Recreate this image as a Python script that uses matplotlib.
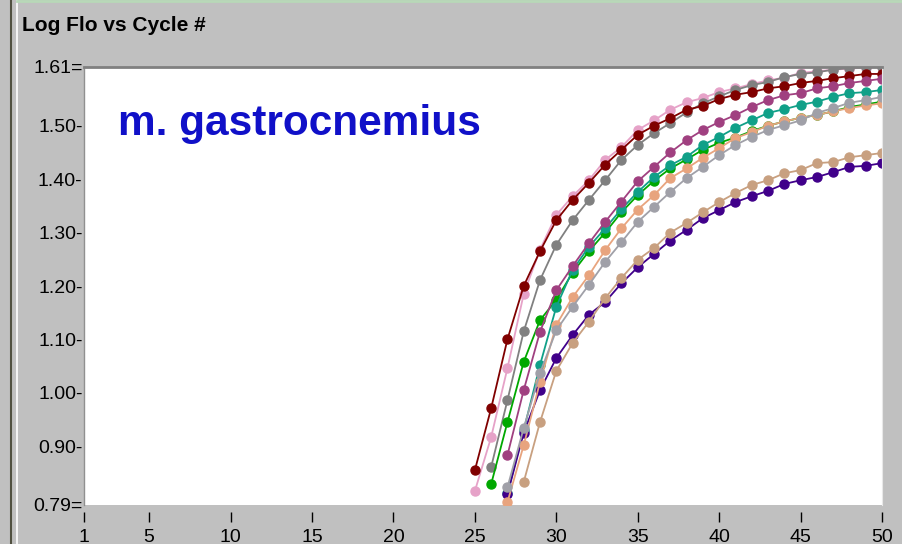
import matplotlib
matplotlib.use("Agg")
import matplotlib.pyplot as plt
from matplotlib.lines import Line2D

# cycle number where each trace starts, and the log fluorescence per cycle
maroon_start = 25
maroon = [0.855, 0.971, 1.10, 1.20, 1.265, 1.323, 1.361, 1.393, 1.427, 1.455,
          1.483, 1.50, 1.514, 1.53, 1.537, 1.55, 1.558, 1.563, 1.57, 1.574,
          1.58, 1.584, 1.589, 1.593, 1.597, 1.597]
pink_start = 25
pink = [0.816, 0.917, 1.046, 1.185, 1.268, 1.333, 1.368, 1.398, 1.436, 1.46,
        1.492, 1.51, 1.53, 1.544, 1.552, 1.563, 1.57, 1.578, 1.585, 1.59,
        1.599, 1.602, 1.605, 1.607, 1.609, 1.61]
gray_start = 26
gray = [0.861, 0.986, 1.115, 1.211, 1.277, 1.323, 1.361, 1.398, 1.436, 1.464,
        1.486, 1.505, 1.525, 1.542, 1.555, 1.567, 1.576, 1.582, 1.591, 1.597,
        1.600, 1.605, 1.608, 1.61, 1.61]
green_start = 26
green = [0.829, 0.945, 1.058, 1.136, 1.174, 1.225, 1.265, 1.30, 1.338, 1.37,
         1.397, 1.42, 1.437, 1.455, 1.468, 1.478, 1.49, 1.50, 1.508, 1.515,
         1.52, 1.527, 1.535, 1.54, 1.545]
magenta_start = 27
magenta = [0.883, 1.005, 1.114, 1.192, 1.237, 1.28, 1.32, 1.358, 1.396, 1.423,
           1.45, 1.473, 1.492, 1.507, 1.52, 1.535, 1.548, 1.557, 1.561, 1.57,
           1.574, 1.58, 1.584, 1.588]
teal_start = 27
teal = [0.812, 0.93, 1.052, 1.161, 1.23, 1.273, 1.308, 1.344, 1.376, 1.404,
        1.426, 1.442, 1.464, 1.479, 1.496, 1.51, 1.524, 1.531, 1.539, 1.545,
        1.554, 1.561, 1.563, 1.567]
ltgray_start = 27
ltgray = [0.823, 0.934, 1.037, 1.117, 1.161, 1.202, 1.245, 1.282, 1.32, 1.348,
          1.376, 1.402, 1.423, 1.445, 1.464, 1.479, 1.492, 1.501, 1.51, 1.524,
          1.533, 1.543, 1.548, 1.554]
salmon_start = 27
salmon = [0.795, 0.902, 1.02, 1.127, 1.179, 1.22, 1.267, 1.308, 1.343, 1.37,
          1.402, 1.42, 1.44, 1.458, 1.477, 1.488, 1.50, 1.508, 1.515, 1.52,
          1.527, 1.533, 1.538, 1.542]
purple_start = 27
purple = [0.81, 0.925, 1.005, 1.065, 1.108, 1.146, 1.17, 1.205, 1.235, 1.26,
          1.285, 1.305, 1.327, 1.342, 1.357, 1.368, 1.378, 1.391, 1.398, 1.404,
          1.413, 1.423, 1.425, 1.43]
tan_start = 28
tan = [0.833, 0.945, 1.041, 1.093, 1.133, 1.177, 1.215, 1.249, 1.271, 1.30,
       1.318, 1.338, 1.357, 1.374, 1.389, 1.398, 1.411, 1.417, 1.43, 1.432,
       1.441, 1.445, 1.449]

yticks = [0.79, 0.90, 1.00, 1.10, 1.20, 1.30, 1.40, 1.50, 1.61]
xticks = [1, 5, 10, 15, 20, 25, 30, 35, 40, 45, 50]

traces = [
    (pink_start, pink, "#E6A2C8"),
    (gray_start, gray, "#808080"),
    (maroon_start, maroon, "#800000"),
    (green_start, green, "#00A800"),
    (teal_start, teal, "#10A088"),
    (magenta_start, magenta, "#A04080"),
    (purple_start, purple, "#40008A"),
    (salmon_start, salmon, "#E8A47E"),
    (ltgray_start, ltgray, "#A0A0A8"),
    (tan_start, tan, "#C8A080"),
]

W, H = 903, 544
bg = "#C0C0C0"
lab_font = "Liberation Sans"

fig = plt.figure(figsize=(W / 100, H / 100), dpi=100, facecolor=bg)
ax = fig.add_axes([84 / W, (H - 505) / H, (882 - 84) / W, (505 - 67) / H])
ax.set_facecolor("white")

# ticks hang a little below the white plot area
ax.spines["bottom"].set_position(("outward", 5))
ax.spines["bottom"].set_visible(False)

for start, vals, col in traces:
    cyc = list(range(start, start + len(vals)))
    ax.plot(cyc, vals, color=col, lw=1.3, marker="o", ms=6.5,
            mec=col, mfc=col, clip_on=True)

ax.set_xlim(1, 50)
ax.set_ylim(0.79, 1.61)

ax.set_yticks(yticks)
ylabels = []
for v in yticks:
    end = "=" if v in (yticks[0], yticks[-1]) else "-"
    ylabels.append(f"{v:.2f}{end}")
ax.set_yticklabels(ylabels, fontfamily=lab_font, fontsize=14)
ax.tick_params(axis="y", length=0, pad=1)

ax.set_xticks(xticks)
ax.set_xticklabels([str(t) for t in xticks], fontfamily=lab_font, fontsize=14)
ax.tick_params(axis="x", length=7.5, width=1, color="black", pad=5)

ax.spines["top"].set_color("#808080")
ax.spines["top"].set_linewidth(2)
ax.spines["left"].set_color("#909090")
ax.spines["left"].set_linewidth(1)
ax.spines["right"].set_color("#E8E8E8")

ax.text((118 - 84) / (882 - 84), (505 - 135) / (505 - 67), "m. gastrocnemius",
        transform=ax.transAxes, fontsize=30.5, fontweight="bold",
        color="#1010C8", family="Liberation Sans", va="baseline")

fig.text(22 / W, (H - 31) / H, "Log Flo vs Cycle #", fontsize=15,
         fontweight="bold", family=lab_font, va="baseline")

# window frame lines
fig.add_artist(Line2D([11 / W, 11 / W], [0, 1], color="#505040", lw=1.5,
                      transform=fig.transFigure))
fig.add_artist(Line2D([17 / W, 17 / W], [0, 1], color="white", lw=1.2,
                      transform=fig.transFigure))
fig.add_artist(Line2D([17 / W, 1], [1 - 1 / H, 1 - 1 / H], color="#B8D8B8",
                      lw=2, transform=fig.transFigure))

fig.savefig("out.png", dpi=100, facecolor=bg)
